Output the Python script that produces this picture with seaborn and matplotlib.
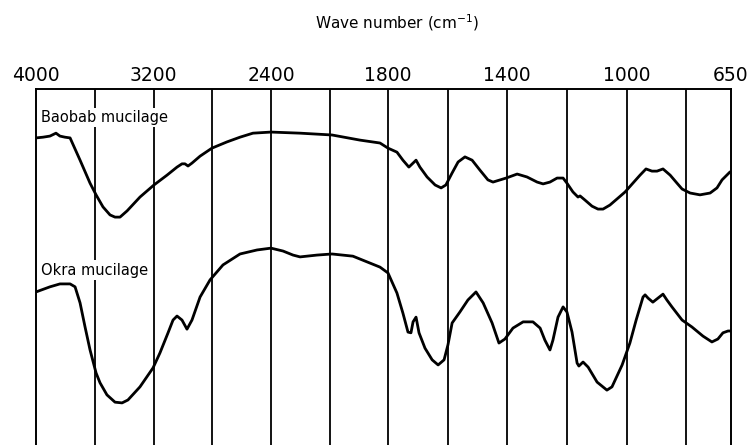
import numpy as np
import pandas as pd
import matplotlib
matplotlib.use("Agg")
import matplotlib.pyplot as plt
import seaborn as sns

# Infrared spectra of two plant mucilages (wave number in cm^-1, relative transmittance)
baobab_wn = [4000, 3952, 3905, 3864, 3837, 3803, 3768, 3700, 3632, 3591, 3544, 3496,
             3462, 3428, 3380, 3292, 3197, 3108, 3040, 3006, 2986, 2965, 2938, 2883,
             2802, 2700, 2611, 2523, 2400, 2251, 2087, 1944, 1841, 1800, 1770, 1750,
             1730, 1716, 1706, 1693, 1669, 1642, 1622, 1606, 1585, 1565, 1542, 1518,
             1492, 1465, 1448, 1404, 1367, 1334, 1300, 1280, 1257, 1233, 1213, 1200,
             1180, 1163, 1156, 1140, 1116, 1096, 1079, 1056, 1029, 1005, 979, 955,
             935, 915, 898, 878, 854, 831, 814, 787, 754, 720, 697, 680, 653]
baobab_t = [86.6, 86.8, 87.1, 87.9, 87.1, 86.8, 86.6, 80.5, 74.2, 71.0, 67.7, 65.5,
            64.9, 64.9, 66.6, 70.4, 73.7, 76.4, 78.6, 79.5, 79.5, 78.9, 79.7, 81.6,
            83.8, 85.5, 86.8, 87.9, 88.2, 87.9, 87.4, 86.0, 85.2, 83.8, 82.7, 80.5,
            78.6, 79.7, 80.5, 78.6, 75.9, 73.7, 72.9, 73.7, 77.0, 80.0, 81.4, 80.5,
            77.8, 75.1, 74.5, 75.6, 76.7, 75.9, 74.5, 74.0, 74.5, 75.6, 75.6, 74.2,
            71.8, 70.4, 70.7, 69.6, 67.9, 67.1, 67.1, 68.2, 70.1, 71.8, 74.2, 76.4,
            78.1, 77.5, 77.5, 78.1, 76.4, 74.2, 72.6, 71.5, 71.0, 71.5, 72.9, 75.1, 77.3]

okra_wn = [4000, 3905, 3837, 3768, 3734, 3700, 3666, 3632, 3591, 3564, 3517, 3462,
           3414, 3374, 3292, 3203, 3156, 3101, 3067, 3040, 3006, 2972, 2938, 2883,
           2815, 2727, 2611, 2495, 2400, 2338, 2287, 2251, 2164, 2087, 1980, 1892,
           1841, 1800, 1770, 1750, 1733, 1723, 1716, 1706, 1696, 1676, 1652, 1632,
           1612, 1599, 1585, 1559, 1532, 1505, 1481, 1451, 1428, 1408, 1381, 1347,
           1314, 1290, 1274, 1257, 1247, 1230, 1213, 1200, 1183, 1166, 1160, 1146,
           1129, 1099, 1066, 1049, 1015, 989, 968, 945, 938, 928, 912, 895, 878,
           865, 848, 814, 781, 744, 714, 694, 677, 660, 650]
okra_t = [44.4, 45.8, 46.6, 46.6, 45.8, 41.4, 34.8, 28.5, 22.2, 19.5, 16.2, 14.2,
          14.0, 14.8, 18.4, 23.6, 27.7, 33.2, 36.7, 37.8, 36.7, 34.2, 36.7, 43.0,
          47.7, 51.8, 54.8, 55.9, 56.4, 55.6, 54.5, 54.0, 54.5, 54.8, 54.2, 52.3,
          51.2, 49.6, 44.1, 38.6, 33.4, 33.2, 36.2, 37.5, 33.2, 29.0, 25.8, 24.4,
          25.8, 29.9, 35.9, 38.9, 42.2, 44.4, 41.4, 35.9, 30.4, 31.5, 34.5, 36.2,
          36.2, 34.5, 31.2, 28.5, 31.2, 37.5, 40.3, 38.9, 33.4, 24.9, 24.1, 25.2,
          23.8, 19.7, 17.5, 18.4, 24.4, 30.4, 36.7, 43.0, 43.6, 42.7, 41.6, 42.7, 43.8,
          42.2, 40.3, 36.7, 34.8, 32.3, 30.7, 31.5, 33.2, 33.7, 33.7]

sample_names = ["Baobab mucilage", "Okra mucilage"]
tick_labels = [4000, 3200, 2400, 1800, 1400, 1000, 650]
grid_wn = [3600, 3200, 2800, 2400, 2100, 1800, 1600, 1400, 1200, 1000, 800]

df = pd.concat([
    pd.DataFrame({"wn": baobab_wn, "t": baobab_t, "sample": sample_names[0]}),
    pd.DataFrame({"wn": okra_wn, "t": okra_t, "sample": sample_names[1]}),
])

sns.set_style("white")
plt.rcParams["font.family"] = ["DejaVu Sans"]
plt.rcParams["text.color"] = "black"
plt.rcParams["xtick.color"] = "black"

# piecewise-linear wave number scale of the chart paper
_wn_pts = [650, 1800, 2400, 4000]
_pos_pts = [0.0, 343.0, 460.0, 695.0]
def fwd(w):
    return np.interp(w, _wn_pts, _pos_pts)
def inv(p):
    return np.interp(p, _pos_pts, _wn_pts)

fig = plt.figure(figsize=(7.49, 4.45), dpi=100)
ax = fig.add_axes([36 / 749, -9 / 445, 695 / 749, 365 / 445])
ax.set_xscale("function", functions=(fwd, inv))

for w in grid_wn:
    ax.axvline(w, color="black", lw=1.3, zorder=1)

sns.lineplot(data=df, x="wn", y="t", units="sample", estimator=None, sort=False,
             color="black", lw=2.0, ax=ax, zorder=2)

ax.set_xlim(4000, 650)
ax.set_ylim(0, 100)
ax.set_xticks(tick_labels)
ax.set_xticklabels([str(v) for v in tick_labels])
ax.xaxis.set_minor_locator(matplotlib.ticker.NullLocator())
ax.xaxis.tick_top()
ax.tick_params(axis="x", length=0, pad=3, labelsize=13.5, labelcolor="black")
ax.set_yticks([])
ax.set_xlabel("")
ax.set_ylabel("")
for side in ["top", "left", "right"]:
    ax.spines[side].set_visible(True)
    ax.spines[side].set_color("black")
    ax.spines[side].set_linewidth(1.4)
ax.spines["bottom"].set_visible(False)

label_box = dict(facecolor="white", edgecolor="none", pad=1.5)
ax.text(3966, 92.3, sample_names[0], fontsize=10.5, va="center", ha="left",
        color="black", bbox=label_box, zorder=5)
ax.text(3966, 50.4, sample_names[1], fontsize=10.5, va="center", ha="left",
        color="black", bbox=label_box, zorder=5)

fig.text(397 / 749, 1 - 23 / 445, "Wave number (cm$^{-1}$)", fontsize=11,
         color="black", ha="center", va="center")

fig.savefig("out.png", dpi=100)
